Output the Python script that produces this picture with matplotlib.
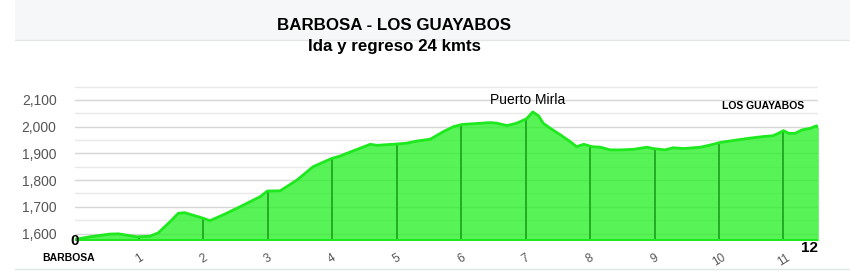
import numpy as np
import matplotlib
matplotlib.use("Agg")
import matplotlib.pyplot as plt
from matplotlib.patches import Rectangle

# ---- data ----
km = [0.0, 0.24, 0.55, 0.68, 0.96, 1.17, 1.30, 1.48, 1.61, 1.71, 2.00, 2.10, 2.36, 2.59,
      2.88, 2.99, 3.19, 3.45, 3.70, 3.99, 4.12, 4.33, 4.59, 4.69, 5.00, 5.15, 5.31, 5.52,
      5.72, 5.88, 6.01, 6.19, 6.45, 6.55, 6.71, 6.86, 7.01, 7.11, 7.20, 7.27, 7.38, 7.54,
      7.69, 7.79, 7.90, 8.03, 8.16, 8.31, 8.47, 8.67, 8.88, 8.98, 9.16, 9.29, 9.45, 9.71,
      9.86, 10.02, 10.22, 10.48, 10.69, 10.84, 10.92, 11.00, 11.08, 11.18, 11.29, 11.42,
      11.51, 11.54]
elev = [1578, 1588, 1598, 1599, 1588, 1590, 1603, 1644, 1676, 1678, 1657, 1648, 1676, 1703,
        1738, 1759, 1760, 1800, 1850, 1881, 1890, 1910, 1934, 1930, 1935, 1938, 1946, 1953,
        1981, 2000, 2008, 2011, 2015, 2013, 2004, 2013, 2029, 2055, 2040, 2013, 1994, 1969,
        1944, 1925, 1934, 1925, 1923, 1913, 1913, 1915, 1923, 1918, 1913, 1921, 1918, 1923,
        1931, 1941, 1948, 1957, 1963, 1966, 1975, 1985, 1975, 1975, 1988, 1994,
        2003, 1998]
km_marks = [1, 2, 3, 4, 5, 6, 7, 8, 9, 10, 11]
km_labels = ["1", "2", "3", "4", "5", "6", "7", "8", "9", "10", "11"]
y_ticks = [1600, 1700, 1800, 1900, 2000, 2100]
y_labels = ["1,600", "1,700", "1,800", "1,900", "2,000", "2,100"]
title1 = "BARBOSA - LOS GUAYABOS"
title2 = "Ida y regreso 24 kmts"
start_label, end_label = "BARBOSA", "LOS GUAYABOS"
peak_label = "Puerto Mirla"

plt.rcParams['font.family'] = ['Liberation Sans', 'DejaVu Sans']

W, H = 850, 274
fig = plt.figure(figsize=(W / 100, H / 100), dpi=100)
fig.patch.set_facecolor("white")

# faint screenshot background band at top
fig.add_artist(Rectangle((15 / W, 1 - 40 / H), 1, 40 / H, transform=fig.transFigure,
                         facecolor="#f6f7f8", edgecolor="none", zorder=0))
fig.add_artist(plt.Line2D([15 / W, 1], [1 - 40 / H, 1 - 40 / H], transform=fig.transFigure,
                          color="#e4e6e8", lw=1, zorder=0))
fig.add_artist(plt.Line2D([15 / W, 1], [1 - 269 / H, 1 - 269 / H], transform=fig.transFigure,
                          color="#dde8e8", lw=1, zorder=0))

x0, x1 = 74.6, 818.3
yb, yt = 240.5, 86
ax = fig.add_axes([x0 / W, 1 - yb / H, (x1 - x0) / W, (yb - yt) / H])
ax.set_xlim(0, 11.54)
ymin, ymax = 1574, 2152
ax.set_ylim(ymin, ymax)
for s in ax.spines.values():
    s.set_visible(False)

# gridlines
for g in np.arange(1600, 2151, 50):
    major = g % 100 == 0
    ax.axhline(g, color="#d6d6d6" if major else "#e9e9e9", lw=1, zorder=1)

ax.fill_between(km, elev, ymin, color="#22f022", alpha=0.76, lw=0, zorder=2)
ax.plot(km, elev, color="#1ee81e", lw=2.0, zorder=4, solid_capstyle="round")
ax.axhline(ymin + 1, color="#1ee81e", lw=1.5, zorder=4)

for m in km_marks:
    top = np.interp(m, km, elev)
    ax.plot([m, m], [ymin, top], color="#179a17", lw=1.1, zorder=3)

ax.set_yticks(y_ticks)
ax.set_yticklabels(y_labels, fontsize=10, color="#555555")
ax.tick_params(axis="y", length=0, pad=13)
ax.set_xticks(km_marks)
ax.set_xticklabels(km_labels, fontsize=8.5, color="#555555", rotation=32)
ax.tick_params(axis="x", length=0, pad=8)

ax.text(0, ymin, "0", fontsize=11, fontweight="bold", ha="center", va="center", zorder=5)
ax.text(1.0, -0.05, "12", transform=ax.transAxes, fontsize=11, fontweight="bold",
        ha="right", va="center")
fig.text(69 / W, 1 - 258 / H, start_label, fontsize=7.5, fontweight="bold", ha="center", va="center")
fig.text(763 / W, 1 - 106 / H, end_label, fontsize=7.5, fontweight="bold", ha="center", va="center")
fig.text(528 / W, 1 - 100 / H, peak_label, fontsize=10, ha="center", va="center")

fig.text(394 / W, 1 - 25.5 / H, title1, fontsize=12.2, fontweight="bold", ha="center", va="center")
fig.text(395 / W, 1 - 46.5 / H, title2, fontsize=12.2, fontweight="bold", ha="center", va="center")

fig.savefig("out.png", dpi=100)
